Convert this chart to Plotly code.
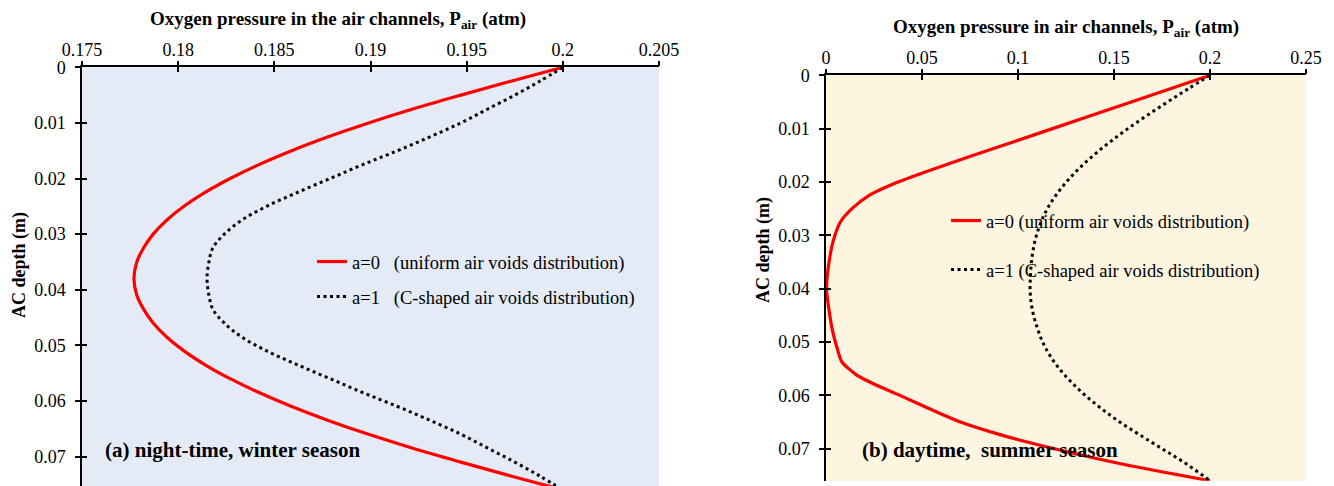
import plotly.graph_objects as go

# --- data ---
# (a) night-time, winter season
depth_a = [0, 0.0025, 0.005, 0.0075, 0.01, 0.0125, 0.015, 0.0175, 0.02, 0.0225,
           0.025, 0.0275, 0.03, 0.0325, 0.035, 0.038, 0.041, 0.0435, 0.046, 0.0485,
           0.051, 0.0535, 0.056, 0.0585, 0.061, 0.0635, 0.066, 0.0685, 0.071, 0.0735, 0.076]
p_uniform_a = [0.2, 0.1973, 0.1947, 0.1922, 0.1899, 0.1878, 0.1859, 0.1842, 0.1827, 0.1814,
               0.1803, 0.1794, 0.1787, 0.1782, 0.17785, 0.1777, 0.17785, 0.1782, 0.1787, 0.1794,
               0.1803, 0.1814, 0.1827, 0.1842, 0.1859, 0.1878, 0.1899, 0.1922, 0.1947, 0.1973, 0.2]
p_cshape_a = [0.2, 0.1988, 0.1975, 0.1961, 0.1947, 0.1931, 0.1914, 0.1896, 0.1879, 0.1862,
              0.1846, 0.1833, 0.1824, 0.1818, 0.1816, 0.1815, 0.1816, 0.1818, 0.1824, 0.1833,
              0.1846, 0.1862, 0.1879, 0.1896, 0.1914, 0.1931, 0.1947, 0.1961, 0.1975, 0.1988, 0.2]

# (b) daytime, summer season
depth_b_uniform = [0, 0.005, 0.01, 0.015, 0.0175, 0.02, 0.0225, 0.025, 0.0275, 0.031,
                   0.036, 0.0403, 0.0472, 0.0509, 0.0537, 0.0562, 0.0584, 0.06,
                   0.0634, 0.065, 0.0675, 0.07, 0.073, 0.076]
p_uniform_b = [0.2, 0.159, 0.118, 0.0768, 0.0565, 0.0375, 0.0225, 0.0135, 0.0075, 0.0038,
               0.0012, 0.0003, 0.003, 0.0056, 0.0082, 0.016, 0.0281, 0.0385,
               0.0594, 0.070, 0.092, 0.119, 0.156, 0.2]
depth_b_cshape = [0, 0.0025, 0.005, 0.0075, 0.01, 0.0125, 0.015, 0.0175, 0.02, 0.0225,
                  0.025, 0.0275, 0.03, 0.0325, 0.035, 0.0375, 0.04, 0.0425, 0.045, 0.0475,
                  0.05, 0.0525, 0.055, 0.0575, 0.06, 0.0625, 0.065, 0.0675, 0.07, 0.0725, 0.076]
p_cshape_b = [0.2, 0.1888, 0.1779, 0.1673, 0.1572, 0.1479, 0.1393, 0.1317, 0.1252, 0.1197,
              0.1153, 0.1120, 0.1096, 0.1080, 0.1070, 0.1065, 0.1063, 0.1068, 0.1081, 0.1102,
              0.1128, 0.1166, 0.1215, 0.1277, 0.1350, 0.1435, 0.1530, 0.1638, 0.1750, 0.1862, 0.2]

name_uniform_a = "a=0\u00a0\u00a0\u00a0(uniform air voids distribution)"
name_cshape_a = "a=1\u00a0\u00a0\u00a0(C-shaped air voids distribution)"
name_uniform_b = "a=0 (uniform air voids distribution)"
name_cshape_b = "a=1 (C-shaped air voids distribution)"

title_x_a = "<b>Oxygen pressure in the air channels, P<sub>air</sub> (atm)</b>"
title_x_b = "<b>Oxygen pressure in air channels, P<sub>air</sub> (atm)</b>"
title_y = "<b>AC depth (m)</b>"
label_a = "<b>(a) night-time, winter season</b>"
label_b = "<b>(b) daytime,  summer season</b>"

FONT = "Liberation Serif"
RED = "#FF0000"

# the page body has an 8px margin, so the figure is drawn 8px in from the window corner
OFF = 8
W, H = 1334 - OFF, 486 - OFF


def px(x):
    return (x - OFF) / W


def py(y):
    return 1 - (y - OFF) / H


fig = go.Figure()

fig.add_trace(go.Scatter(x=p_uniform_a, y=depth_a, mode="lines", name=name_uniform_a,
                         line=dict(color=RED, width=3.2, shape="spline"),
                         legend="legend", legendgroup="a0", xaxis="x", yaxis="y"))
fig.add_trace(go.Scatter(x=p_cshape_a, y=depth_a, mode="lines", name=name_cshape_a,
                         line=dict(color="black", width=3, dash="3px,3.5px", shape="spline"),
                         legend="legend", legendgroup="a1", xaxis="x", yaxis="y"))
fig.add_trace(go.Scatter(x=p_uniform_b, y=depth_b_uniform, mode="lines", name=name_uniform_b,
                         line=dict(color=RED, width=3.2, shape="spline", smoothing=0.6),
                         legend="legend2", legendgroup="b0", xaxis="x2", yaxis="y2"))
fig.add_trace(go.Scatter(x=p_cshape_b, y=depth_b_cshape, mode="lines", name=name_cshape_b,
                         line=dict(color="black", width=3, dash="3px,3.5px", shape="spline"),
                         legend="legend2", legendgroup="b1", xaxis="x2", yaxis="y2"))

# empty traces so the overlay axes (inside half of the crossing ticks) get drawn
fig.add_trace(go.Scatter(x=[], y=[], xaxis="x3", yaxis="y3", showlegend=False, hoverinfo="skip"))
fig.add_trace(go.Scatter(x=[], y=[], xaxis="x4", yaxis="y4", showlegend=False, hoverinfo="skip"))

tickfont = dict(family=FONT, size=18, color="black")
base = dict(showgrid=False, zeroline=False, tickformat="~g", tickfont=tickfont,
            tickcolor="black", tickwidth=1.5, ticklen=5, automargin=False)
main = dict(base, ticks="outside", showline=True, linecolor="black", linewidth=1.5)
over = dict(base, ticks="inside", showline=False, showticklabels=False)

xa_dom = [px(82), px(659)]
ya_dom = [0, py(67.3)]
xb_dom = [px(826), px(1306)]
yb_dom = [py(480.7), py(75.3)]
xa_rng = [0.175, 0.205]
ya_rng = [0.0753, 0]
xb_rng = [0, 0.25]
yb_rng = [0.076, 0]

fig.update_layout(
    width=W, height=H,
    autosize=False,
    margin=dict(l=0, r=0, t=0, b=0, pad=0, autoexpand=False),
    paper_bgcolor="white", plot_bgcolor="rgba(0,0,0,0)",
    font=dict(family=FONT, size=17, color="black"),
    xaxis=dict(main, domain=xa_dom, anchor="y", side="top", range=xa_rng,
               tick0=0.175, dtick=0.005, ticklabelstandoff=-3),
    yaxis=dict(main, domain=ya_dom, anchor="x", range=ya_rng,
               tick0=0, dtick=0.01, ticklabelstandoff=6),
    xaxis2=dict(main, domain=xb_dom, anchor="y2", side="top", range=xb_rng,
                tick0=0, dtick=0.05, ticklabelstandoff=-3),
    yaxis2=dict(main, domain=yb_dom, anchor="x2", range=yb_rng,
                tick0=0, dtick=0.01, ticklabelstandoff=6),
    xaxis3=dict(over, overlaying="x", anchor="y3", side="top", range=xa_rng,
                tick0=0.175, dtick=0.005),
    yaxis3=dict(over, overlaying="y", anchor="x3", range=ya_rng, tick0=0, dtick=0.01),
    xaxis4=dict(over, overlaying="x2", anchor="y4", side="top", range=xb_rng,
                tick0=0, dtick=0.05),
    yaxis4=dict(over, overlaying="y2", anchor="x4", range=yb_rng, tick0=0, dtick=0.01),
    legend=dict(x=px(312), y=py(243), xanchor="left", yanchor="top",
                bgcolor="rgba(0,0,0,0)", tracegroupgap=8,
                font=dict(family=FONT, size=18.5)),
    legend2=dict(x=px(946), y=py(202), xanchor="left", yanchor="top",
                 bgcolor="rgba(0,0,0,0)", tracegroupgap=22,
                 font=dict(family=FONT, size=18.5)),
    showlegend=True,
    shapes=[
        dict(type="rect", xref="x domain", yref="y domain", x0=0, x1=1, y0=0, y1=1,
             fillcolor="#E4EBF6", line_width=0, layer="below"),
        dict(type="rect", xref="x2 domain", yref="y2 domain", x0=0, x1=1, y0=0, y1=1,
             fillcolor="#FDF5E0", line_width=0, layer="below"),
    ],
    annotations=[
        dict(text=title_x_a, xref="paper", yref="paper", x=px(338), y=py(20),
             xanchor="center", yanchor="middle", showarrow=False, font=dict(size=19)),
        dict(text=title_x_b, xref="paper", yref="paper", x=px(1066), y=py(28),
             xanchor="center", yanchor="middle", showarrow=False, font=dict(size=19)),
        dict(text=title_y, xref="paper", yref="paper", x=px(19), y=py(265),
             xanchor="center", yanchor="middle", showarrow=False, textangle=-90,
             font=dict(size=18)),
        dict(text=title_y, xref="paper", yref="paper", x=px(763), y=py(250),
             xanchor="center", yanchor="middle", showarrow=False, textangle=-90,
             font=dict(size=18)),
        dict(text=label_a, xref="paper", yref="paper", x=px(103), y=py(450),
             xanchor="left", yanchor="middle", showarrow=False, font=dict(size=21)),
        dict(text=label_b, xref="paper", yref="paper", x=px(860), y=py(450),
             xanchor="left", yanchor="middle", showarrow=False, font=dict(size=21)),
    ],
)

fig.write_html("out.html")
